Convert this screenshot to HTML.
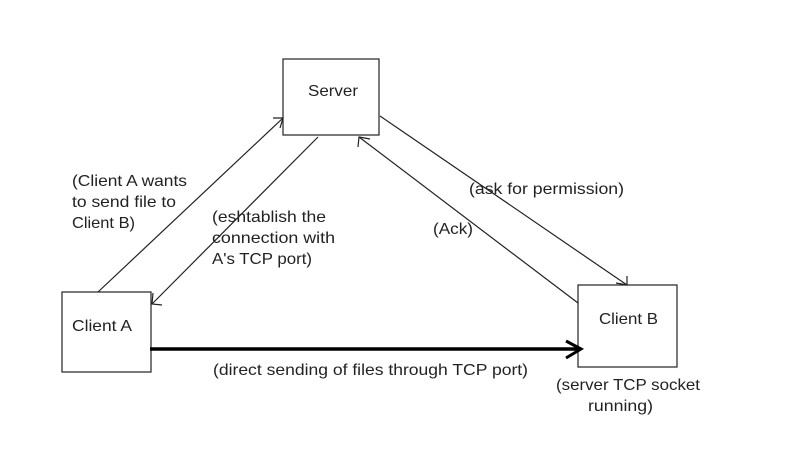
<!DOCTYPE html>
<html><head><meta charset="utf-8"><style>
html,body{margin:0;padding:0;background:#fff;}
svg{display:block;}
text{font-family:"Liberation Sans",sans-serif;font-size:16px;fill:#222;}
</style></head><body>
<svg width="790" height="468" viewBox="0 0 790 468" xmlns="http://www.w3.org/2000/svg">
<g fill="none" stroke="#222" stroke-width="1.2">
<rect x="283" y="59" width="96" height="76"/>
<rect x="62" y="292" width="89" height="80"/>
<rect x="578" y="285" width="99" height="82"/>
<line x1="98" y1="292" x2="283" y2="118"/>
<polyline points="273,118 283,118 280,128"/>
<line x1="318" y1="137" x2="152" y2="304"/>
<polyline points="153,293 152,304 162,305"/>
<line x1="380" y1="116" x2="627" y2="285"/>
<polyline points="616,283 627,285 627,276"/>
<line x1="578" y1="303" x2="359" y2="137"/>
<polyline points="358,147 359,137 370,139"/>
</g>
<line x1="150" y1="349" x2="580" y2="349" stroke="#000" stroke-width="3.5"/>
<polyline points="566,341 581,349 566,358" fill="none" stroke="#000" stroke-width="3"/>
<text x="308" y="96" textLength="50" lengthAdjust="spacingAndGlyphs">Server</text>
<text x="72" y="331" textLength="60" lengthAdjust="spacingAndGlyphs">Client A</text>
<text x="599" y="324" textLength="59" lengthAdjust="spacingAndGlyphs">Client B</text>
<text x="72" y="186" textLength="115" lengthAdjust="spacingAndGlyphs">(Client A wants</text>
<text x="72" y="207" textLength="104" lengthAdjust="spacingAndGlyphs">to send file to</text>
<text x="72" y="228" textLength="63" lengthAdjust="spacingAndGlyphs">Client B)</text>
<text x="212" y="222" textLength="114" lengthAdjust="spacingAndGlyphs">(eshtablish the</text>
<text x="212" y="243" textLength="123" lengthAdjust="spacingAndGlyphs">connection with</text>
<text x="212" y="264" textLength="100" lengthAdjust="spacingAndGlyphs">A's TCP port)</text>
<text x="469" y="194" textLength="155" lengthAdjust="spacingAndGlyphs">(ask for permission)</text>
<text x="433" y="234" textLength="40" lengthAdjust="spacingAndGlyphs">(Ack)</text>
<text x="213" y="375" textLength="315" lengthAdjust="spacingAndGlyphs">(direct sending of files through TCP port)</text>
<text x="556" y="390" textLength="144" lengthAdjust="spacingAndGlyphs">(server TCP socket</text>
<text x="588" y="411" textLength="65" lengthAdjust="spacingAndGlyphs">running)</text>
</svg>
</body></html>
